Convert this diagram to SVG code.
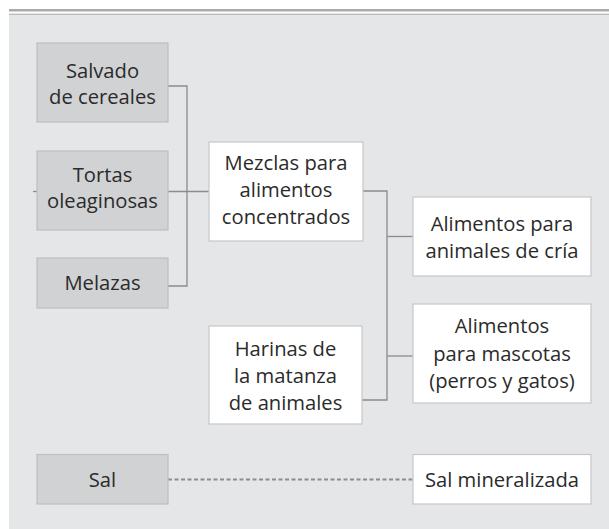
<svg xmlns="http://www.w3.org/2000/svg" width="609" height="529" viewBox="0 0 609 529">
<style>
.g{fill:#d1d2d4;stroke:#bdbec0;stroke-width:1.2}
.w{fill:#ffffff;stroke:#c6c7c9;stroke-width:1.2}
.t{font-family:"Open Sans","Liberation Sans",sans-serif;font-size:20.2px;fill:#2b2b2b;text-anchor:middle}
.c{fill:none;stroke:#8c8c8e;stroke-width:1.3}
.d{fill:none;stroke:#8c8c8e;stroke-width:2;stroke-dasharray:4 2.5}
</style>
<rect x="0" y="0" width="609" height="529" fill="#ffffff"/>
<rect x="9" y="14" width="600" height="515" fill="#e5e6e8"/>
<line x1="9" y1="10.3" x2="609" y2="10.3" stroke="#a9aaac" stroke-width="2.6"/>
<line x1="9" y1="14.2" x2="609" y2="14.2" stroke="#a9aaac" stroke-width="1"/>
<g id="connectors">
<polyline class="c" points="168,86 187,86 187,286 168,286"/>
<line class="c" x1="168" y1="191.5" x2="209" y2="191.5"/>
<line class="c" x1="33" y1="191.5" x2="37" y2="191.5"/>
<polyline class="c" points="363,191 387,191 387,400 362,400"/>
<line class="c" x1="387" y1="236.5" x2="413" y2="236.5"/>
<line class="c" x1="387" y1="356" x2="413" y2="356"/>
<line class="d" x1="168" y1="479.5" x2="413" y2="479.5"/>
</g>
<g id="salvado"><rect class="g" x="37" y="43" width="131" height="79"/>
<text class="t" x="102.5" y="78">Salvado</text><text class="t" x="102.5" y="104">de cereales</text></g>
<g id="tortas"><rect class="g" x="37" y="151" width="131" height="79"/>
<text class="t" x="102.5" y="182">Tortas</text><text class="t" x="102.5" y="208">oleaginosas</text></g>
<g id="melazas"><rect class="g" x="37" y="258" width="131" height="50"/>
<text class="t" x="102.5" y="290">Melazas</text></g>
<g id="mezclas"><rect class="w" x="209" y="142" width="154" height="99"/>
<text class="t" x="286" y="170">Mezclas para</text><text class="t" x="286" y="197">alimentos</text><text class="t" x="286" y="224">concentrados</text></g>
<g id="harinas"><rect class="w" x="209" y="326" width="153" height="98"/>
<text class="t" x="285.5" y="356">Harinas de</text><text class="t" x="285.5" y="383">la matanza</text><text class="t" x="285.5" y="410">de animales</text></g>
<g id="cria"><rect class="w" x="413" y="197" width="178" height="79"/>
<text class="t" x="502" y="231">Alimentos para</text><text class="t" x="502" y="258">animales de cría</text></g>
<g id="mascotas"><rect class="w" x="413" y="304" width="178" height="99"/>
<text class="t" x="502" y="333">Alimentos</text><text class="t" x="502" y="361">para mascotas</text><text class="t" x="502" y="388">(perros y gatos)</text></g>
<g id="sal"><rect class="g" x="37" y="454.5" width="131" height="49.5"/>
<text class="t" x="102.5" y="487">Sal</text></g>
<g id="salmin"><rect class="w" x="413" y="454.5" width="178" height="49.5"/>
<text class="t" x="502" y="487">Sal mineralizada</text></g>
</svg>
